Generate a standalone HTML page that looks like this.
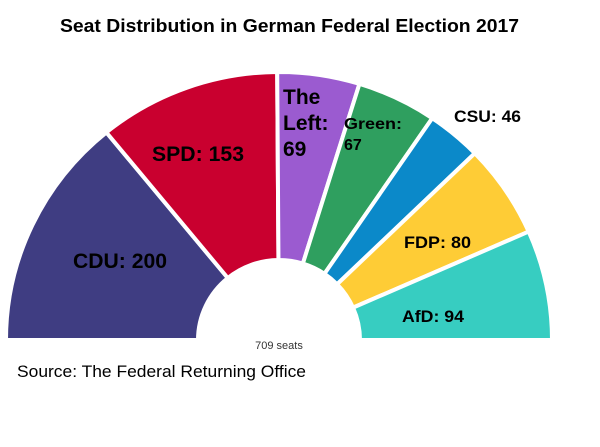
<!DOCTYPE html>
<html><head><meta charset="utf-8"><style>
body{margin:0;background:#fff;}
svg{display:block;font-family:"Liberation Sans",Arial,sans-serif;}
</style></head><body>
<svg id="c" width="600" height="447" viewBox="0 0 600 447">
<rect width="600" height="447" fill="#fff"/>
<text x="60" y="32" font-size="18" font-weight="bold" textLength="459" lengthAdjust="spacingAndGlyphs">Seat Distribution in German  Federal Election 2017</text>
<g id="segs"></g>
<text x="279" y="349" text-anchor="middle" font-size="11" fill="#333">709 seats</text>
<text x="17" y="377" font-size="17" textLength="289" lengthAdjust="spacingAndGlyphs">Source: The Federal Returning Office</text>
</svg>
<script>
const parties = ["CDU","SPD","The Left","Green","CSU","FDP","AfD"];
const seats = [200,153,69,67,46,80,94];
const colors = ["#3f3d82","#c9002f","#9b5bd0","#2f9f5f","#0b89c9","#fecc36","#37cdc1"];
const cx=279, cy=340, rx=273, ry=268, irx=81, iry=80;
const total = seats.reduce((a,b)=>a+b,0);
const ns="http://www.w3.org/2000/svg";
const g=document.getElementById('segs');
function pt(a,r1,r2){return [cx-Math.cos(a)*r1, cy-Math.sin(a)*r2];}
let acc=0;
seats.forEach((v,i)=>{
  const a0=acc/total*Math.PI, a1=(acc+v)/total*Math.PI; acc+=v;
  const p0=pt(a0,rx,ry),p1=pt(a1,rx,ry),q1=pt(a1,irx,iry),q0=pt(a0,irx,iry);
  const p=document.createElementNS(ns,'path');
  p.setAttribute('d',`M${q0[0]},${q0[1]} L${p0[0]},${p0[1]} A${rx},${ry} 0 0 1 ${p1[0]},${p1[1]} L${q1[0]},${q1[1]} A${irx},${iry} 0 0 0 ${q0[0]},${q0[1]} Z`);
  p.setAttribute('fill',colors[i]);
  p.setAttribute('stroke','#fff');
  p.setAttribute('stroke-width','4');
  
  
  g.appendChild(p);
});
function addText(x,y,s,fs,name,len){
  const t=document.createElementNS(ns,'text');
  t.setAttribute('x',x);t.setAttribute('y',y);t.setAttribute('font-size',fs);
  t.setAttribute('font-weight','bold');
  if(len){t.setAttribute('textLength',len);t.setAttribute('lengthAdjust','spacingAndGlyphs');}
  t.textContent=s;
  
  
  document.getElementById('c').appendChild(t);
}
const layout={CDU:[73,268,21,94],SPD:[152,161,21,92],CSU:[454,122,17,67],FDP:[404,248,17,67],AfD:[402,322,17,62]};
parties.forEach((n,i)=>{
  const nm='label-'+n.toLowerCase().replace(' ','-');
  if(n==="The Left"){
    addText(283,104,"The",21,nm);addText(283,130,"Left:",21,nm);addText(283,156,String(seats[i]),21,nm);
  } else if(n==="Green"){
    addText(344,129,"Green:",16,nm,58);addText(344,150,String(seats[i]),16,nm);
  } else {
    const [x,y,fs,len]=layout[n];
    addText(x,y,n+": "+seats[i],fs,nm,len);
  }
});
</script>
</body></html>
